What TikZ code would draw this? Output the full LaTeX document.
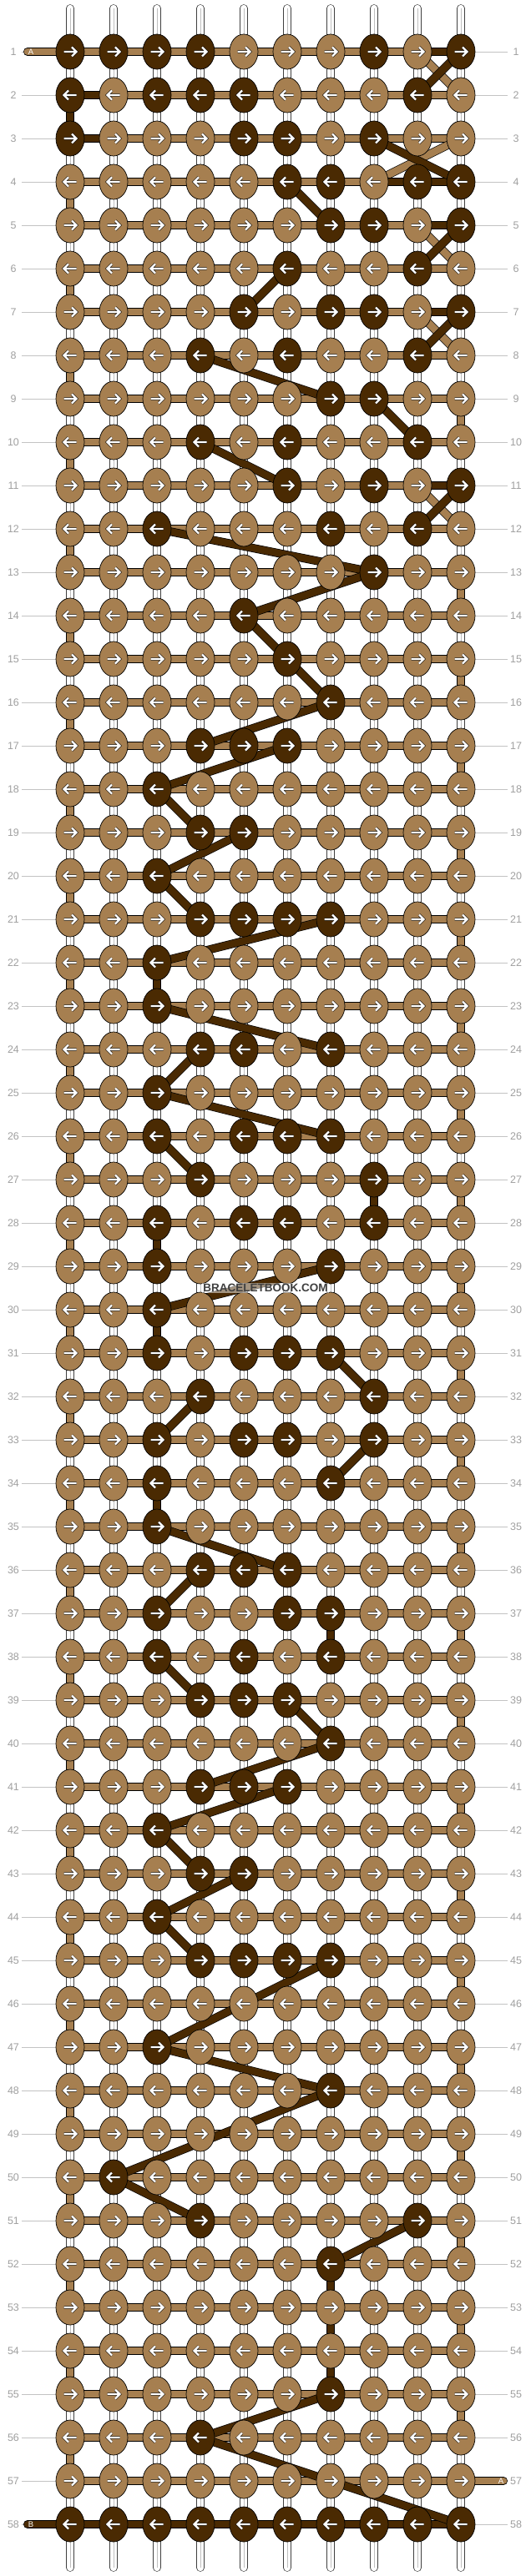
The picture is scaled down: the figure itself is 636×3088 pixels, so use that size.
\documentclass[tikz,border=0pt]{standalone}
\usepackage{fontspec}
\setmainfont{Liberation Sans}
\usetikzlibrary{shapes.geometric}

\definecolor{bdark}{RGB}{74,42,2}
\definecolor{blight}{RGB}{166,127,80}
\definecolor{numgray}{RGB}{160,160,160}
\definecolor{rulegray}{RGB}{195,195,195}

\pgfdeclarelayer{bg}
\pgfdeclarelayer{strings}
\pgfdeclarelayer{threads}
\pgfsetlayers{bg,strings,threads,main}

\begin{document}
\begin{tikzpicture}[x=1pt, y=-1pt]
    \tikzstyle{knot} = [ellipse, draw=black, line width=0.7pt, minimum width=34pt, minimum height=42pt, inner sep=0pt]
    \tikzstyle{arr} = [draw=black, double=white, double distance=2.2pt, line width=0.5pt]
    \tikzstyle{strand} = [draw=black!75, double=white, double distance=8.4pt, line width=0.6pt]
    \tikzstyle{core} = [draw=black!25, line width=0.7pt]
    \tikzstyle{lthr} = [draw=black, double=blight, double distance=8.6pt, line width=0.7pt]
    \tikzstyle{dthr} = [draw=black, double=bdark, double distance=8.6pt, line width=0.7pt]
    \tikzstyle{rowno} = [text=numgray, font=\fontsize{12.5}{14}\selectfont, inner sep=0pt]
    \tikzstyle{guide} = [draw=rulegray, line width=0.8pt]
    \tikzstyle{endtag} = [text=white, font=\fontsize{9.5}{11}\selectfont, inner sep=0pt]

    \begin{pgfonlayer}{bg}
        \fill[white] (0,0) rectangle (636,3088);
    \end{pgfonlayer}
    \useasboundingbox (0,0) rectangle (636,3088);

    % knots, row by row (dark columns listed)
    \foreach \r/\dk in {1/{1,2,3,4,8,10}, 2/{1,3,4,5,9}, 3/{1,5,6,8}, 4/{6,7,9,10},
        5/{7,8,10}, 6/{6,9}, 7/{5,7,8,10}, 8/{4,6,9}, 9/{7,8}, 10/{4,6,9},
        11/{6,8,10}, 12/{3,7,9}, 13/{8}, 14/{5}, 15/{6}, 16/{7}, 17/{4,5,6},
        18/{3}, 19/{4,5}, 20/{3}, 21/{4,5,6,7}, 22/{3}, 23/{3}, 24/{4,5,7},
        25/{3}, 26/{3,5,6,7}, 27/{4,8}, 28/{3,5,6,8}, 29/{3,7}, 30/{3},
        31/{3,5,6,7}, 32/{4,8}, 33/{3,5,6,8}, 34/{3,7}, 35/{3}, 36/{4,5,6},
        37/{3,6,7}, 38/{3,5,7}, 39/{4,5,6}, 40/{7}, 41/{4,5,6}, 42/{3},
        43/{4,5}, 44/{3}, 45/{4,5,6,7}, 46/{0}, 47/{3}, 48/{7}, 49/{0},
        50/{2}, 51/{4,9}, 52/{7}, 53/{0}, 54/{0}, 55/{7}, 56/{4}, 57/{0},
        58/{1,...,10}} {
        \ifodd\r\relax \def\s{1}\else \def\s{-1}\fi
        \foreach \c in {1,...,10} {
            \gdef\kc{blight}
            \foreach \d in \dk {\ifnum\d=\c \gdef\kc{bdark}\fi}
            \node[knot, fill=\kc] (k-\r-\c) at ({84+52*(\c-1)}, {62+52*(\r-1)}) {};
            \draw[arr] ([xshift={-7.5*\s}]k-\r-\c.center) -- ++({15*\s},0)
                ++({-5.5*\s},-5.5) -- ++({5.5*\s},5.5) -- ++({-5.5*\s},5.5);
        }
    }

    % loose strings and row numbers
    \begin{pgfonlayer}{strings}
        \foreach \c in {1,...,10} {
            \coordinate (t-\c) at ({84+52*(\c-1)}, 10);
            \coordinate (b-\c) at ({84+52*(\c-1)}, 3078);
            \draw[strand, line cap=round] (t-\c) -- (k-1-\c.center);
            \draw[strand, line cap=round] (k-58-\c.center) -- (b-\c);
            \draw[core] (t-\c) -- (k-1-\c.center);
            \draw[core] (k-58-\c.center) -- (b-\c);
            \foreach \r in {1,...,57} {
                \pgfmathtruncatemacro{\n}{\r+1}
                \draw[strand] (k-\r-\c.center) -- (k-\n-\c.center);
                \draw[core] (k-\r-\c.center) -- (k-\n-\c.center);
            }
        }
        \foreach \r in {1,...,58} {
            \node[rowno] (ln-\r) at (16, {62+52*(\r-1)}) {\r};
            \node[rowno] (rn-\r) at (618, {62+52*(\r-1)}) {\r};
            \draw[guide, shorten <=10pt] (ln-\r.center) -- (k-\r-1.west);
            \draw[guide, shorten >=10pt] (k-\r-10.east) -- (rn-\r.center);
        }
    \end{pgfonlayer}

    % working threads
    \begin{pgfonlayer}{threads}
        \foreach \r in {1,...,57}
            \draw[lthr] (k-\r-1.center) -- (k-\r-10.center);
        \foreach \r in {4,6,...,56} {
            \pgfmathtruncatemacro{\n}{\r+1}
            \draw[lthr] (k-\r-1.center) -- (k-\n-1.center);
        }
        \foreach \r in {13,15,...,55} {
            \pgfmathtruncatemacro{\n}{\r+1}
            \draw[lthr] (k-\r-10.center) -- (k-\n-10.center);
        }
        \draw[lthr] (k-9-10.center) -- (k-10-10.center);
        \coordinate (a-in) at (33,62);
        \coordinate (a-out) at (603,2974);
        \coordinate (b-in) at (33,3026);
        \draw[lthr, line cap=round] (a-in) -- (k-1-1.center);
        \draw[lthr, line cap=round] (k-57-10.center) -- (a-out);
        \foreach \a/\b in {1-9/2-10, 3-10/4-8, 5-9/6-10, 7-9/8-10, 11-9/12-10}
            \draw[lthr] (k-\a.center) -- (k-\b.center);
        \draw[dthr, line cap=round] (b-in) -- (k-58-10.center);
        \foreach \a/\b in {1-9/1-10, 2-1/2-2, 3-1/3-2, 2-1/3-1, 4-8/4-10, 5-9/5-10,
            7-9/7-10, 11-9/11-10, 22-3/23-3, 27-8/28-8, 28-3/29-3, 30-3/31-3,
            34-3/35-3, 37-7/38-7, 52-7/55-7,
            1-10/2-9, 3-8/4-10, 4-6/5-7, 5-10/6-9, 6-6/7-5, 7-10/8-9, 8-4/9-7,
            9-8/10-9, 10-4/11-6, 11-10/12-9, 12-3/13-8, 13-8/14-5, 14-5/15-6,
            15-6/16-7, 16-7/17-4, 17-6/18-3, 18-3/19-4, 19-5/20-3, 20-3/21-4,
            21-7/22-3, 23-3/24-7, 24-4/25-3, 25-3/26-7, 26-3/27-4, 29-7/30-3,
            31-7/32-8, 32-4/33-3, 33-8/34-7, 35-3/36-6, 36-4/37-3, 38-3/39-4,
            39-6/40-7, 40-7/41-4, 41-6/42-3, 42-3/43-4, 43-5/44-3, 44-3/45-4,
            45-7/47-3, 47-3/48-7, 48-7/50-2, 50-2/51-4, 51-9/52-7, 55-7/56-4,
            56-4/58-10}
            \draw[dthr] (k-\a.center) -- (k-\b.center);
        \node[endtag] (tag-a) at (37,62) {A};
        \node[endtag] (tag-a2) at (600,2974) {A};
        \node[endtag] (tag-b) at (37,3026) {B};
    \end{pgfonlayer}

    \node[font=\bfseries\fontsize{13.5}{15}\selectfont, text=black!75, fill=white, fill opacity=0.5, text opacity=1, inner sep=1pt] (mark) at (318,1544) {BRACELETBOOK.COM};
\end{tikzpicture}
\end{document}
